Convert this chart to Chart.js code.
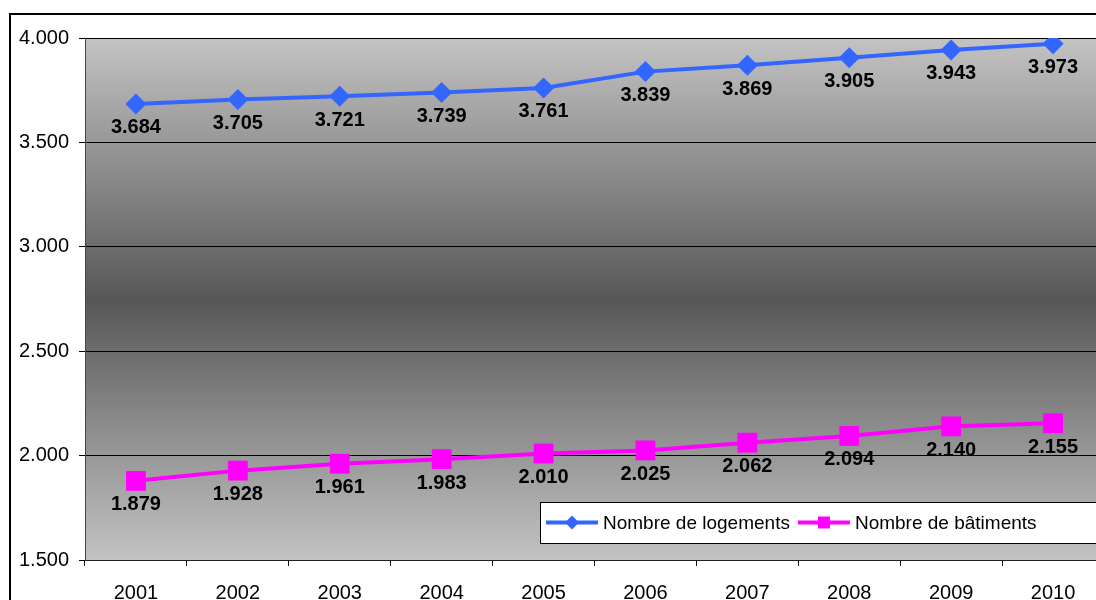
<!DOCTYPE html>
<html>
<head>
<meta charset="utf-8">
<script src="https://cdn.jsdelivr.net/npm/chart.js@4/dist/chart.umd.min.js"></script>
<style>
  html, body { margin: 0; padding: 0; background: #ffffff; overflow: hidden; }
  #wrap { width: 1096px; height: 600px; overflow: hidden; position: relative; }
  #c { position: absolute; left: 0; top: 0; }
</style>
</head>
<body>
<div id="wrap"><canvas id="c" width="1120" height="600"></canvas></div>
<script>
// Years on the horizontal axis
const years = ['2001', '2002', '2003', '2004', '2005', '2006', '2007', '2008', '2009', '2010'];
// Number of dwellings per year
const logements = [3684, 3705, 3721, 3739, 3761, 3839, 3869, 3905, 3943, 3973];
// Number of buildings per year
const batiments = [1879, 1928, 1961, 1983, 2010, 2025, 2062, 2094, 2140, 2155];
// Series names
const seriesNames = ['Nombre de logements', 'Nombre de bâtiments'];
// Vertical axis range
const yMin = 1500, yMax = 4000, yStep = 500;

const BLUE = '#3366ff';
const MAGENTA = '#ff00ff';
const FONT = '"Liberation Sans", Arial, sans-serif';

function fmt(v) {
  return String(v).replace(/\B(?=(\d{3})+(?!\d))/g, '.');
}

// Frame around the chart and gradient plot background
const backdrop = {
  id: 'backdrop',
  beforeDraw(chart) {
    const { ctx, chartArea: a } = chart;
    ctx.save();
    ctx.strokeStyle = '#000';
    ctx.lineWidth = 2;
    ctx.strokeRect(10, 14, chart.width + 40, chart.height + 40);
    const g = ctx.createLinearGradient(0, a.top, 0, a.bottom);
    g.addColorStop(0, '#c3c3c3');
    g.addColorStop(0.5, '#575757');
    g.addColorStop(1, '#c3c3c3');
    ctx.fillStyle = g;
    ctx.fillRect(a.left, a.top, a.right - a.left, a.bottom - a.top);
    ctx.strokeStyle = '#8a8a8a';
    ctx.lineWidth = 1;
    ctx.beginPath();
    ctx.moveTo(a.left, a.top + 0.5);
    ctx.lineTo(a.right, a.top + 0.5);
    ctx.stroke();
    ctx.restore();
  }
};

// Value labels under every point
const valueLabels = {
  id: 'valueLabels',
  afterDatasetsDraw(chart) {
    const { ctx } = chart;
    ctx.save();
    ctx.font = 'bold 20px ' + FONT;
    ctx.fillStyle = '#000';
    ctx.textAlign = 'center';
    ctx.textBaseline = 'middle';
    chart.data.datasets.forEach((ds, i) => {
      const meta = chart.getDatasetMeta(i);
      meta.data.forEach((pt, j) => {
        ctx.fillText(fmt(ds.data[j]), pt.x, pt.y + 24);
      });
    });
    ctx.restore();
  }
};

// Boxed legend inside the plot, with line-and-marker samples
const boxLegend = {
  id: 'boxLegend',
  afterDraw(chart) {
    const { ctx } = chart;
    const x0 = 540, y0 = 502, h = 41;
    ctx.save();
    ctx.fillStyle = '#fff';
    ctx.fillRect(x0, y0, 600, h);
    ctx.strokeStyle = '#000';
    ctx.lineWidth = 1;
    ctx.strokeRect(x0 + 0.5, y0 + 0.5, 600, h);
    ctx.font = '19px ' + FONT;
    ctx.textBaseline = 'middle';
    ctx.fillStyle = '#000';
    const cy = y0 + h / 2;
    let x = x0 + 6;
    chart.data.datasets.forEach((ds) => {
      ctx.strokeStyle = ds.borderColor;
      ctx.lineWidth = 4;
      ctx.beginPath();
      ctx.moveTo(x, cy);
      ctx.lineTo(x + 52, cy);
      ctx.stroke();
      ctx.fillStyle = ds.borderColor;
      if (ds.pointStyle === 'rectRot') {
        ctx.beginPath();
        ctx.moveTo(x + 26, cy - 7);
        ctx.lineTo(x + 33, cy);
        ctx.lineTo(x + 26, cy + 7);
        ctx.lineTo(x + 19, cy);
        ctx.closePath();
        ctx.fill();
      } else {
        ctx.fillRect(x + 20, cy - 6, 12, 12);
      }
      ctx.fillStyle = '#000';
      ctx.fillText(ds.label, x + 57, cy + 1);
      x += 57 + ctx.measureText(ds.label).width + 8;
    });
    ctx.restore();
  }
};

new Chart(document.getElementById('c'), {
  type: 'line',
  data: {
    labels: years,
    datasets: [
      {
        label: seriesNames[0],
        data: logements,
        borderColor: BLUE,
        backgroundColor: BLUE,
        borderWidth: 4,
        pointStyle: 'rectRot',
        pointRadius: 10.5,
        pointBorderWidth: 0,
        tension: 0
      },
      {
        label: seriesNames[1],
        data: batiments,
        borderColor: MAGENTA,
        backgroundColor: MAGENTA,
        borderWidth: 4,
        pointStyle: 'rect',
        pointRadius: 14,
        pointBorderWidth: 0,
        tension: 0
      }
    ]
  },
  options: {
    responsive: false,
    animation: false,
    devicePixelRatio: 1,
    layout: { padding: { top: 38, right: 16, left: 0, bottom: 0 } },
    plugins: { legend: { display: false }, tooltip: { enabled: false } },
    scales: {
      x: {
        type: 'category',
        offset: true,
        grid: {
          offset: true,
          drawOnChartArea: false,
          drawTicks: true,
          tickLength: 6,
          tickColor: '#000',
          color: '#000'
        },
        border: { display: true, color: '#222', width: 1 },
        ticks: {
          color: '#000',
          font: { family: FONT, size: 20 },
          padding: 15,
          maxRotation: 0,
          autoSkip: false
        },
        afterFit(scale) { scale.height = 40; }
      },
      y: {
        min: yMin,
        max: yMax,
        grid: {
          color: '#000',
          lineWidth: 1,
          drawTicks: true,
          tickLength: 6,
          tickColor: '#000'
        },
        border: { display: true, color: '#444', width: 1 },
        ticks: {
          stepSize: yStep,
          color: '#000',
          font: { family: FONT, size: 20 },
          padding: 10,
          callback: (v) => fmt(v)
        },
        afterFit(scale) { scale.width = 85; }
      }
    }
  },
  plugins: [backdrop, valueLabels, boxLegend]
});
</script>
</body>
</html>
